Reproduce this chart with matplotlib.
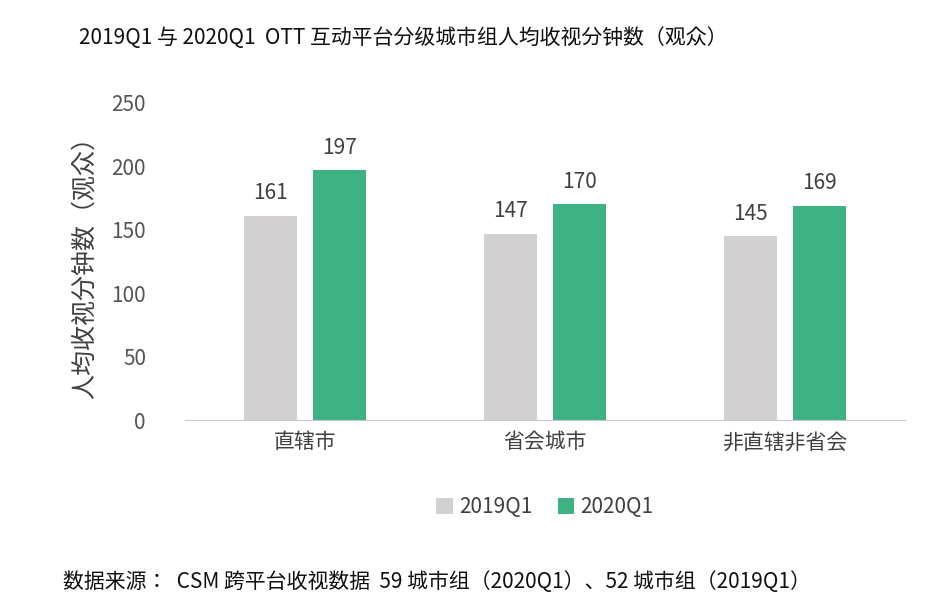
import matplotlib
matplotlib.use("Agg")
import matplotlib.pyplot as plt
import numpy as np

plt.rcParams["font.family"] = ["Noto Sans CJK SC", "Noto Sans CJK JP", "Noto Sans CJK TC",
                               "Noto Sans CJK KR", "DejaVu Sans"]

categories = ["直辖市", "省会城市", "非直辖非省会"]
series_names = ["2019Q1", "2020Q1"]
v2019 = [161, 147, 145]
v2020 = [197, 170, 169]
yticks = [0, 50, 100, 150, 200, 250]

fig = plt.figure(figsize=(9.53, 6.09), dpi=100)
ax = fig.add_axes([0.194, 0.310, 0.756, 0.521])
x = np.arange(len(categories))
w = 0.22
off = 0.144
b1 = ax.bar(x - off, v2019, w, color="#d2d0d0", label=series_names[0])
b2 = ax.bar(x + off, v2020, w, color="#3db384", label=series_names[1])
for bars, vals in ((b1, v2019), (b2, v2020)):
    for r, v in zip(bars, vals):
        ax.text(r.get_x() + r.get_width() / 2, v + 9, str(v), ha="center", va="bottom",
                fontsize=15, color="#404040")
ax.set_xlim(-0.5, 2.5)
ax.set_ylim(0, 250)
ax.set_yticks(yticks)
ax.set_xticks(x)
ax.set_xticklabels(categories, fontsize=15, color="#404040")
ax.tick_params(axis="y", labelsize=15, labelcolor="#555555", length=0, pad=28)
ax.tick_params(axis="x", length=0, pad=8)
for s in ("top", "right", "left"):
    ax.spines[s].set_visible(False)
ax.spines["bottom"].set_color("#c8c8c8")
ax.set_ylabel("人均收视分钟数（观众）", fontsize=18, color="#404040", labelpad=10)
ax.legend(loc="upper center", bbox_to_anchor=(0.5, -0.18), ncol=2, frameon=False,
          fontsize=15, handlelength=0.8, handleheight=0.8, columnspacing=1.2,
          handletextpad=0.3, labelcolor="#404040")
fig.text(0.083, 0.938, "2019Q1 与 2020Q1  OTT 互动平台分级城市组人均收视分钟数（观众）",
         fontsize=15, color="#111111", va="center")
fig.text(0.066, 0.044, "数据来源：  CSM 跨平台收视数据  59 城市组（2020Q1）、52 城市组（2019Q1）",
         fontsize=15, color="#111111", va="center")
fig.savefig("out.png", dpi=100)
